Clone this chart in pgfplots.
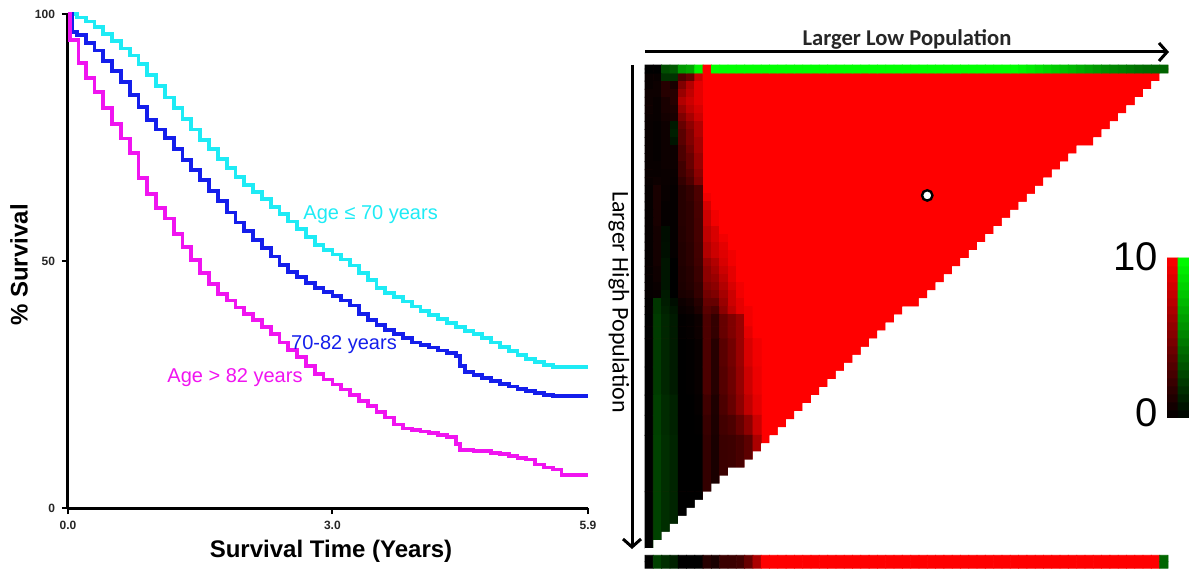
\documentclass[border=0pt]{standalone}
\usepackage{fontspec}
\setmainfont{Liberation Sans}
\newfontfamily\carlito{Carlito}
\usepackage{pgfplots}
\usepackage{pgfplotstable}
\pgfplotsset{compat=1.18}
\usetikzlibrary{arrows.meta}
\definecolor{kmcyan}{RGB}{30,235,245}
\definecolor{kmblue}{RGB}{20,30,235}
\definecolor{kmmag}{RGB}{240,20,240}
\definecolor{hmred}{RGB}{255,0,0}
\pgfplotsset{colormap={rg}{rgb255(0cm)=(0,255,0); rgb255(1cm)=(0,0,0); rgb255(2cm)=(255,0,0)},
  hm/.style={matrix plot*, mesh/cols=14, point meta=explicit}}

\pgfplotstableread{
x y
0 60
1 59
2 58
3 57
4 56
5 55
6 54
7 53
8 52
9 51
10 50
11 50
12 49
13 48
14 47
15 46
16 45
17 44
18 43
19 42
20 41
21 40
22 39
23 38
24 37
25 36
26 35
27 34
28 33
29 32
30 31
31 30
32 30
33 29
34 28
35 27
36 26
37 25
38 24
39 23
40 22
41 21
42 20
43 19
44 18
45 17
46 16
47 15
48 14
49 13
50 12
51 11
52 10
53 10
54 9
55 8
56 7
57 6
58 5
59 4
60 3
61 2
62 1
63 1
}\stair

\begin{document}
\begin{tikzpicture}
\path[use as bounding box] (0,0) rectangle (594.5pt,-285.5pt);

% ---------------- Kaplan-Meier panel ----------------
\begin{axis}[at={(34pt,-254pt)}, anchor=south west, scale only axis,
  width=260pt, height=247pt, xmin=0, xmax=5.9, ymin=0, ymax=100,
  axis lines=left, axis line style={-, line width=1.5pt},
  xtick={0,3,5.9}, xticklabels={0.0,3.0,5.9},
  ytick={0,50,100}, yticklabels={0,50,100},
  tick align=outside, major tick length=3pt,
  tick style={line width=1pt, black},
  ticklabel style={font=\fontsize{6}{7}\selectfont\bfseries, text=black!85},
  clip=false]
\addplot[const plot, kmcyan, line width=1.9pt] coordinates {
(0,100) (0.1,99.3) (0.2,98.5) (0.3,97.4) (0.4,96.0) (0.5,94.5) (0.6,93.0) (0.7,91.6) (0.8,89.8) (0.9,87.7)
(1.0,85.4) (1.1,83.1) (1.2,81.0) (1.3,78.8) (1.4,76.6) (1.5,74.5) (1.6,72.6) (1.7,70.7) (1.8,68.8) (1.9,67.0)
(2.0,65.4) (2.1,63.9) (2.2,62.5) (2.3,61.0) (2.4,59.5) (2.5,58.0) (2.6,56.4) (2.7,54.9) (2.8,53.3) (2.9,52.3)
(3.0,51.3) (3.1,50.3) (3.2,49.1) (3.3,47.6) (3.4,46.1) (3.5,44.6) (3.6,43.6) (3.7,42.7) (3.8,41.8) (3.9,40.8)
(4.0,39.9) (4.1,39.1) (4.2,38.2) (4.3,37.4) (4.4,36.7) (4.5,35.9) (4.6,35.2) (4.7,34.4) (4.8,33.5) (4.9,32.6)
(5.0,31.8) (5.1,31.0) (5.2,30.2) (5.3,29.5) (5.4,29.0) (5.5,28.6) (5.6,28.5) (5.9,28.5)};
\addplot[const plot, kmblue, line width=1.9pt] coordinates {
(0,100) (0.05,96.4) (0.1,95.8) (0.2,94.2) (0.3,92.6) (0.4,90.5) (0.5,88.4) (0.6,86.2) (0.7,83.6) (0.8,81.1) (0.9,78.6)
(1.0,76.6) (1.1,74.9) (1.2,72.7) (1.3,70.5) (1.4,68.4) (1.5,66.4) (1.6,64.2) (1.7,62.1) (1.8,59.8) (1.9,57.8)
(2.0,56.0) (2.1,54.3) (2.2,52.6) (2.3,50.9) (2.4,49.2) (2.5,47.8) (2.6,46.7) (2.7,45.6) (2.8,44.6) (2.9,43.8)
(3.0,42.9) (3.1,42.0) (3.2,41.0) (3.3,39.3) (3.4,38.1) (3.5,37.0) (3.6,36.1) (3.7,35.3) (3.8,34.4) (3.9,33.5)
(4.0,33.0) (4.1,32.5) (4.2,31.9) (4.3,31.4) (4.4,30.7) (4.45,28.7) (4.5,27.6) (4.6,26.9) (4.7,26.3) (4.8,25.7) (4.9,25.1)
(5.0,24.6) (5.1,24.1) (5.2,23.7) (5.3,23.3) (5.4,22.8) (5.5,22.7) (5.9,22.7)};
\addplot[const plot, kmmag, line width=1.9pt] coordinates {
(0,100) (0.02,94.7) (0.1,94.7) (0.12,90) (0.2,87) (0.3,84.2) (0.4,81) (0.5,77.8) (0.6,74.8) (0.7,71.8) (0.8,66.8) (0.9,63.5)
(1.0,60.8) (1.1,58.6) (1.2,55.4) (1.3,52.8) (1.4,50.2) (1.5,47.5) (1.6,45.3) (1.7,43.3) (1.8,42.0) (1.9,40.6)
(2.0,39.3) (2.1,38.0) (2.2,36.7) (2.3,35.2) (2.4,33.5) (2.5,32.0) (2.6,30.5) (2.7,28.7) (2.8,27.1) (2.9,26.0)
(3.0,25.0) (3.1,24.0) (3.2,22.9) (3.3,21.7) (3.4,20.6) (3.5,19.5) (3.6,18.3) (3.7,16.9) (3.8,16.1) (3.9,15.8)
(4.0,15.5) (4.1,15.2) (4.2,14.8) (4.3,14.4) (4.4,13.0) (4.45,11.8) (4.6,11.5) (4.8,11.2) (4.9,10.9)
(5.0,10.5) (5.1,10.1) (5.2,9.8) (5.3,8.8) (5.4,8.2) (5.5,7.8) (5.6,6.7) (5.9,6.7)};
\end{axis}

\node[rotate=90, font=\fontsize{12}{14}\selectfont\bfseries] at (9.5pt,-132.5pt) {\% Survival};
\node[font=\fontsize{12}{14}\selectfont\bfseries] at (165.5pt,-275.5pt) {Survival Time (Years)};
\node[text=kmcyan, font=\fontsize{10}{12}\selectfont] at (185.3pt,-107.3pt) {Age ≤ 70 years};
\node[text=kmblue, font=\fontsize{10}{12}\selectfont] at (172pt,-172.5pt) {70-82 years};
\node[text=kmmag, font=\fontsize{10}{12}\selectfont] at (117.5pt,-189pt) {Age > 82 years};

% ---------------- Heat map panel ----------------
\begin{axis}[at={(322.5pt,-32.5pt)}, anchor=north west, scale only axis,
  width=261.5pt, height=251.6pt, xmin=0, xmax=63, ymin=0, ymax=62.5,
  y dir=reverse, hide axis, colormap name=rg,
  point meta min=-10, point meta max=10, clip=false]
\addplot[const plot, fill=hmred, draw=none] table[x=x, y=y] {\stair} \closedcycle;
% left region, rows 1-30
\addplot[hm] coordinates {
(0.5,1.5)[0.3] (1.5,1.5)[0.3] (2.5,1.5)[-2] (3.5,1.5)[-2] (4.5,1.5)[3] (5.5,1.5)[4] (6.5,1.5)[8] (7.5,1.5)[10] (8.5,1.5)[10] (9.5,1.5)[10] (10.5,1.5)[10] (11.5,1.5)[10] (12.5,1.5)[10] (13.5,1.5)[10]
(0.5,2.5)[0.3] (1.5,2.5)[0.5] (2.5,2.5)[1.5] (3.5,2.5)[1] (4.5,2.5)[5] (5.5,2.5)[7] (6.5,2.5)[9] (7.5,2.5)[10] (8.5,2.5)[10] (9.5,2.5)[10] (10.5,2.5)[10] (11.5,2.5)[10] (12.5,2.5)[10] (13.5,2.5)[10]
(0.5,3.5)[0.5] (1.5,3.5)[0.5] (2.5,3.5)[1.5] (3.5,3.5)[1.5] (4.5,3.5)[6] (5.5,3.5)[7.5] (6.5,3.5)[9] (7.5,3.5)[10] (8.5,3.5)[10] (9.5,3.5)[10] (10.5,3.5)[10] (11.5,3.5)[10] (12.5,3.5)[10] (13.5,3.5)[10]
(0.5,4.5)[0.5] (1.5,4.5)[0.3] (2.5,4.5)[1] (3.5,4.5)[1.5] (4.5,4.5)[7] (5.5,4.5)[8] (6.5,4.5)[9] (7.5,4.5)[10] (8.5,4.5)[10] (9.5,4.5)[10] (10.5,4.5)[10] (11.5,4.5)[10] (12.5,4.5)[10] (13.5,4.5)[10]
(0.5,5.5)[0.5] (1.5,5.5)[0.3] (2.5,5.5)[1] (3.5,5.5)[1.2] (4.5,5.5)[6] (5.5,5.5)[7.5] (6.5,5.5)[8.5] (7.5,5.5)[10] (8.5,5.5)[10] (9.5,5.5)[10] (10.5,5.5)[10] (11.5,5.5)[10] (12.5,5.5)[10] (13.5,5.5)[10]
(0.5,6.5)[0.4] (1.5,6.5)[0.3] (2.5,6.5)[0.8] (3.5,6.5)[1] (4.5,6.5)[5] (5.5,6.5)[6.5] (6.5,6.5)[8] (7.5,6.5)[10] (8.5,6.5)[10] (9.5,6.5)[10] (10.5,6.5)[10] (11.5,6.5)[10] (12.5,6.5)[10] (13.5,6.5)[10]
(0.5,7.5)[0.3] (1.5,7.5)[0.2] (2.5,7.5)[0.5] (3.5,7.5)[-1] (4.5,7.5)[4] (5.5,7.5)[5.5] (6.5,7.5)[7] (7.5,7.5)[10] (8.5,7.5)[10] (9.5,7.5)[10] (10.5,7.5)[10] (11.5,7.5)[10] (12.5,7.5)[10] (13.5,7.5)[10]
(0.5,8.5)[0.3] (1.5,8.5)[0.2] (2.5,8.5)[0.5] (3.5,8.5)[-1.2] (4.5,8.5)[3.5] (5.5,8.5)[5] (6.5,8.5)[7] (7.5,8.5)[10] (8.5,8.5)[10] (9.5,8.5)[10] (10.5,8.5)[10] (11.5,8.5)[10] (12.5,8.5)[10] (13.5,8.5)[10]
(0.5,9.5)[0.3] (1.5,9.5)[0.2] (2.5,9.5)[0.5] (3.5,9.5)[-0.8] (4.5,9.5)[3.5] (5.5,9.5)[5] (6.5,9.5)[6.5] (7.5,9.5)[10] (8.5,9.5)[10] (9.5,9.5)[10] (10.5,9.5)[10] (11.5,9.5)[10] (12.5,9.5)[10] (13.5,9.5)[10]
(0.5,10.5)[0.3] (1.5,10.5)[0.2] (2.5,10.5)[0.5] (3.5,10.5)[0.5] (4.5,10.5)[3] (5.5,10.5)[4.5] (6.5,10.5)[6.5] (7.5,10.5)[10] (8.5,10.5)[10] (9.5,10.5)[10] (10.5,10.5)[10] (11.5,10.5)[10] (12.5,10.5)[10] (13.5,10.5)[10]
(0.5,11.5)[0.3] (1.5,11.5)[0.2] (2.5,11.5)[0.5] (3.5,11.5)[0.5] (4.5,11.5)[3] (5.5,11.5)[4] (6.5,11.5)[6] (7.5,11.5)[10] (8.5,11.5)[10] (9.5,11.5)[10] (10.5,11.5)[10] (11.5,11.5)[10] (12.5,11.5)[10] (13.5,11.5)[10]
(0.5,12.5)[0.3] (1.5,12.5)[0.3] (2.5,12.5)[0.5] (3.5,12.5)[0.5] (4.5,12.5)[2.5] (5.5,12.5)[4] (6.5,12.5)[6] (7.5,12.5)[10] (8.5,12.5)[10] (9.5,12.5)[10] (10.5,12.5)[10] (11.5,12.5)[10] (12.5,12.5)[10] (13.5,12.5)[10]
(0.5,13.5)[0.3] (1.5,13.5)[0.3] (2.5,13.5)[0.4] (3.5,13.5)[0.4] (4.5,13.5)[2.5] (5.5,13.5)[3.5] (6.5,13.5)[5.5] (7.5,13.5)[10] (8.5,13.5)[10] (9.5,13.5)[10] (10.5,13.5)[10] (11.5,13.5)[10] (12.5,13.5)[10] (13.5,13.5)[10]
(0.5,14.5)[0.3] (1.5,14.5)[0.5] (2.5,14.5)[0.4] (3.5,14.5)[0.3] (4.5,14.5)[2] (5.5,14.5)[3] (6.5,14.5)[5] (7.5,14.5)[10] (8.5,14.5)[10] (9.5,14.5)[10] (10.5,14.5)[10] (11.5,14.5)[10] (12.5,14.5)[10] (13.5,14.5)[10]
(0.5,15.5)[0.2] (1.5,15.5)[1] (2.5,15.5)[0.3] (3.5,15.5)[0.2] (4.5,15.5)[1.5] (5.5,15.5)[2] (6.5,15.5)[3] (7.5,15.5)[10] (8.5,15.5)[10] (9.5,15.5)[10] (10.5,15.5)[10] (11.5,15.5)[10] (12.5,15.5)[10] (13.5,15.5)[10]
(0.5,16.5)[0.2] (1.5,16.5)[1] (2.5,16.5)[0.3] (3.5,16.5)[0.2] (4.5,16.5)[1.5] (5.5,16.5)[2] (6.5,16.5)[3] (7.5,16.5)[9.5] (8.5,16.5)[10] (9.5,16.5)[10] (10.5,16.5)[10] (11.5,16.5)[10] (12.5,16.5)[10] (13.5,16.5)[10]
(0.5,17.5)[0.2] (1.5,17.5)[1] (2.5,17.5)[0.2] (3.5,17.5)[0.2] (4.5,17.5)[1.5] (5.5,17.5)[1.8] (6.5,17.5)[2.8] (7.5,17.5)[8.5] (8.5,17.5)[10] (9.5,17.5)[10] (10.5,17.5)[10] (11.5,17.5)[10] (12.5,17.5)[10] (13.5,17.5)[10]
(0.5,18.5)[0.2] (1.5,18.5)[1] (2.5,18.5)[0.2] (3.5,18.5)[0.2] (4.5,18.5)[1.5] (5.5,18.5)[1.8] (6.5,18.5)[2.8] (7.5,18.5)[8] (8.5,18.5)[9.5] (9.5,18.5)[10] (10.5,18.5)[10] (11.5,18.5)[10] (12.5,18.5)[10] (13.5,18.5)[10]
(0.5,19.5)[0.2] (1.5,19.5)[1] (2.5,19.5)[0.2] (3.5,19.5)[0.2] (4.5,19.5)[1.5] (5.5,19.5)[1.8] (6.5,19.5)[2.7] (7.5,19.5)[8] (8.5,19.5)[9.5] (9.5,19.5)[10] (10.5,19.5)[10] (11.5,19.5)[10] (12.5,19.5)[10] (13.5,19.5)[10]
(0.5,20.5)[0.2] (1.5,20.5)[0.8] (2.5,20.5)[-0.5] (3.5,20.5)[0.2] (4.5,20.5)[1.4] (5.5,20.5)[1.8] (6.5,20.5)[2.7] (7.5,20.5)[7.5] (8.5,20.5)[8.5] (9.5,20.5)[10] (10.5,20.5)[10] (11.5,20.5)[10] (12.5,20.5)[10] (13.5,20.5)[10]
(0.5,21.5)[0.2] (1.5,21.5)[0.8] (2.5,21.5)[-0.5] (3.5,21.5)[0.2] (4.5,21.5)[1.4] (5.5,21.5)[1.8] (6.5,21.5)[2.7] (7.5,21.5)[7.5] (8.5,21.5)[8.5] (9.5,21.5)[9.5] (10.5,21.5)[10] (11.5,21.5)[10] (12.5,21.5)[10] (13.5,21.5)[10]
(0.5,22.5)[0.2] (1.5,22.5)[0.8] (2.5,22.5)[-0.6] (3.5,22.5)[0.2] (4.5,22.5)[1.3] (5.5,22.5)[1.7] (6.5,22.5)[2.6] (7.5,22.5)[7] (8.5,22.5)[8] (9.5,22.5)[9] (10.5,22.5)[10] (11.5,22.5)[10] (12.5,22.5)[10] (13.5,22.5)[10]
(0.5,23.5)[0.2] (1.5,23.5)[0.8] (2.5,23.5)[-0.6] (3.5,23.5)[0.2] (4.5,23.5)[1.3] (5.5,23.5)[1.7] (6.5,23.5)[2.6] (7.5,23.5)[7] (8.5,23.5)[8] (9.5,23.5)[8.8] (10.5,23.5)[9.5] (11.5,23.5)[10] (12.5,23.5)[10] (13.5,23.5)[10]
(0.5,24.5)[0.2] (1.5,24.5)[0.8] (2.5,24.5)[-0.8] (3.5,24.5)[0] (4.5,24.5)[1.3] (5.5,24.5)[1.7] (6.5,24.5)[2.5] (7.5,24.5)[6] (8.5,24.5)[7] (9.5,24.5)[8.5] (10.5,24.5)[9.5] (11.5,24.5)[10] (12.5,24.5)[10] (13.5,24.5)[10]
(0.5,25.5)[0.2] (1.5,25.5)[0.6] (2.5,25.5)[-0.8] (3.5,25.5)[0] (4.5,25.5)[1.2] (5.5,25.5)[1.5] (6.5,25.5)[2.3] (7.5,25.5)[5.5] (8.5,25.5)[6.5] (9.5,25.5)[8] (10.5,25.5)[9] (11.5,25.5)[10] (12.5,25.5)[10] (13.5,25.5)[10]
(0.5,26.5)[0.2] (1.5,26.5)[0.6] (2.5,26.5)[-0.8] (3.5,26.5)[0] (4.5,26.5)[1.2] (5.5,26.5)[1.5] (6.5,26.5)[2.3] (7.5,26.5)[5.5] (8.5,26.5)[6] (9.5,26.5)[7.5] (10.5,26.5)[9] (11.5,26.5)[10] (12.5,26.5)[10] (13.5,26.5)[10]
(0.5,27.5)[0.2] (1.5,27.5)[0.4] (2.5,27.5)[-0.8] (3.5,27.5)[0] (4.5,27.5)[1.1] (5.5,27.5)[1.4] (6.5,27.5)[2] (7.5,27.5)[5] (8.5,27.5)[5.5] (9.5,27.5)[7] (10.5,27.5)[8.5] (11.5,27.5)[9.5] (12.5,27.5)[10] (13.5,27.5)[10]
(0.5,28.5)[0.2] (1.5,28.5)[0.3] (2.5,28.5)[-1] (3.5,28.5)[0] (4.5,28.5)[1] (5.5,28.5)[1.2] (6.5,28.5)[2] (7.5,28.5)[4.5] (8.5,28.5)[5] (9.5,28.5)[6.5] (10.5,28.5)[8] (11.5,28.5)[9.5] (12.5,28.5)[10] (13.5,28.5)[10]
(0.5,29.5)[0.1] (1.5,29.5)[-2.1] (2.5,29.5)[-1.1] (3.5,29.5)[-0.5] (4.5,29.5)[0.5] (5.5,29.5)[0.8] (6.5,29.5)[1.5] (7.5,29.5)[4] (8.5,29.5)[4] (9.5,29.5)[6] (10.5,29.5)[8] (11.5,29.5)[9] (12.5,29.5)[10] (13.5,29.5)[10]
(0.5,30.5)[0.1] (1.5,30.5)[-2.1] (2.5,30.5)[-1.3] (3.5,30.5)[-0.8] (4.5,30.5)[0.3] (5.5,30.5)[0.5] (6.5,30.5)[1.2] (7.5,30.5)[3.5] (8.5,30.5)[3] (9.5,30.5)[5.5] (10.5,30.5)[7.5] (11.5,30.5)[9] (12.5,30.5)[9.5] (13.5,30.5)[10]
};
% rows 31-33
\addplot[hm] coordinates {
(0.5,31.75)[0] (1.5,31.75)[-2.3] (2.5,31.75)[-1.5] (3.5,31.75)[-1] (4.5,31.75)[0.1] (5.5,31.75)[0.2] (6.5,31.75)[0.5] (7.5,31.75)[3] (8.5,31.75)[2] (9.5,31.75)[4] (10.5,31.75)[5] (11.5,31.75)[6] (12.5,31.75)[9.5] (13.5,31.75)[10]
(0.5,33.25)[0] (1.5,33.25)[-2.3] (2.5,33.25)[-1.5] (3.5,33.25)[-1] (4.5,33.25)[0.1] (5.5,33.25)[0.2] (6.5,33.25)[0.5] (7.5,33.25)[3] (8.5,33.25)[2] (9.5,33.25)[4] (10.5,33.25)[5] (11.5,33.25)[6] (12.5,33.25)[9] (13.5,33.25)[10]
};
% rows 34-40
\addplot[hm] coordinates {
(0.5,35.75)[0] (1.5,35.75)[-2.3] (2.5,35.75)[-1.5] (3.5,35.75)[-1] (4.5,35.75)[0] (5.5,35.75)[0.1] (6.5,35.75)[0.3] (7.5,35.75)[3] (8.5,35.75)[1.5] (9.5,35.75)[3.5] (10.5,35.75)[4.5] (11.5,35.75)[6] (12.5,35.75)[8.5] (13.5,35.75)[9.5]
(0.5,39.25)[0] (1.5,39.25)[-2.3] (2.5,39.25)[-1.5] (3.5,39.25)[-1] (4.5,39.25)[0] (5.5,39.25)[0.1] (6.5,39.25)[0.3] (7.5,39.25)[3] (8.5,39.25)[1.5] (9.5,39.25)[3.3] (10.5,39.25)[4.3] (11.5,39.25)[5.8] (12.5,39.25)[8] (13.5,39.25)[9.3]
};
% rows 41-45
\addplot[hm] coordinates {
(0.5,42.25)[0] (1.5,42.25)[-2.5] (2.5,42.25)[-1.7] (3.5,42.25)[-1.3] (4.5,42.25)[0] (5.5,42.25)[0] (6.5,42.25)[0.2] (7.5,42.25)[2.5] (8.5,42.25)[1.2] (9.5,42.25)[3] (10.5,42.25)[4] (11.5,42.25)[5.5] (12.5,42.25)[7.5] (13.5,42.25)[9]
(0.5,44.75)[0] (1.5,44.75)[-2.5] (2.5,44.75)[-1.7] (3.5,44.75)[-1.3] (4.5,44.75)[0] (5.5,44.75)[0] (6.5,44.75)[0.1] (7.5,44.75)[2.2] (8.5,44.75)[1.1] (9.5,44.75)[2.6] (10.5,44.75)[3] (11.5,44.75)[4] (12.5,44.75)[5.5] (13.5,44.75)[8]
};
% rows 46-59
\addplot[hm] coordinates {
(0.5,49.5)[0] (1.5,49.5)[-2.6] (2.5,49.5)[-1.8] (3.5,49.5)[-1.4] (4.5,49.5)[0] (5.5,49.5)[0] (6.5,49.5)[0] (7.5,49.5)[2] (8.5,49.5)[1] (9.5,49.5)[2.3] (10.5,49.5)[2.4] (11.5,49.5)[2.8] (12.5,49.5)[3.6] (13.5,49.5)[6.7]
(0.5,56.5)[0] (1.5,56.5)[-2.6] (2.5,56.5)[-1.8] (3.5,56.5)[-1.4] (4.5,56.5)[0] (5.5,56.5)[0] (6.5,56.5)[0] (7.5,56.5)[2] (8.5,56.5)[1] (9.5,56.5)[2.3] (10.5,56.5)[2.4] (11.5,56.5)[2.8] (12.5,56.5)[3.6] (13.5,56.5)[6.7]
};
% empty part below the staircase
\addplot[const plot, fill=white, draw=none] table[x=x, y=y] {\stair} -- (axis cs:63,60.3) -- (axis cs:0,60.3) -- cycle;
% top row
\addplot[matrix plot*, mesh/cols=63, point meta=explicit] coordinates {
(0.5,0.25)[0] (1.5,0.25)[0] (2.5,0.25)[-3] (3.5,0.25)[-3.5] (4.5,0.25)[-6] (5.5,0.25)[-6.5] (6.5,0.25)[-9.5] (7.5,0.25)[10] (8.5,0.25)[-10] (9.5,0.25)[-10] (10.5,0.25)[-10] (11.5,0.25)[-10] (12.5,0.25)[-10] (13.5,0.25)[-10] (14.5,0.25)[-10] (15.5,0.25)[-10] (16.5,0.25)[-10] (17.5,0.25)[-10] (18.5,0.25)[-10] (19.5,0.25)[-10] (20.5,0.25)[-10] (21.5,0.25)[-10] (22.5,0.25)[-10] (23.5,0.25)[-10] (24.5,0.25)[-10] (25.5,0.25)[-10] (26.5,0.25)[-10] (27.5,0.25)[-10] (28.5,0.25)[-10] (29.5,0.25)[-10] (30.5,0.25)[-10] (31.5,0.25)[-10] (32.5,0.25)[-10] (33.5,0.25)[-10] (34.5,0.25)[-10] (35.5,0.25)[-10] (36.5,0.25)[-10] (37.5,0.25)[-10] (38.5,0.25)[-10] (39.5,0.25)[-10] (40.5,0.25)[-10] (41.5,0.25)[-10] (42.5,0.25)[-10] (43.5,0.25)[-10] (44.5,0.25)[-10] (45.5,0.25)[-9.6] (46.5,0.25)[-9.2] (47.5,0.25)[-8.8] (48.5,0.25)[-8.4] (49.5,0.25)[-8] (50.5,0.25)[-7.6] (51.5,0.25)[-7.2] (52.5,0.25)[-6.8] (53.5,0.25)[-6.4] (54.5,0.25)[-6] (55.5,0.25)[-5.6] (56.5,0.25)[-5.3] (57.5,0.25)[-5] (58.5,0.25)[-4.7] (59.5,0.25)[-4.4] (60.5,0.25)[-4.2] (61.5,0.25)[-4] (62.5,0.25)[-3.9]
(0.5,0.75)[0] (1.5,0.75)[0] (2.5,0.75)[-3] (3.5,0.75)[-3.5] (4.5,0.75)[-6] (5.5,0.75)[-6.5] (6.5,0.75)[-9.5] (7.5,0.75)[10] (8.5,0.75)[-10] (9.5,0.75)[-10] (10.5,0.75)[-10] (11.5,0.75)[-10] (12.5,0.75)[-10] (13.5,0.75)[-10] (14.5,0.75)[-10] (15.5,0.75)[-10] (16.5,0.75)[-10] (17.5,0.75)[-10] (18.5,0.75)[-10] (19.5,0.75)[-10] (20.5,0.75)[-10] (21.5,0.75)[-10] (22.5,0.75)[-10] (23.5,0.75)[-10] (24.5,0.75)[-10] (25.5,0.75)[-10] (26.5,0.75)[-10] (27.5,0.75)[-10] (28.5,0.75)[-10] (29.5,0.75)[-10] (30.5,0.75)[-10] (31.5,0.75)[-10] (32.5,0.75)[-10] (33.5,0.75)[-10] (34.5,0.75)[-10] (35.5,0.75)[-10] (36.5,0.75)[-10] (37.5,0.75)[-10] (38.5,0.75)[-10] (39.5,0.75)[-10] (40.5,0.75)[-10] (41.5,0.75)[-10] (42.5,0.75)[-10] (43.5,0.75)[-10] (44.5,0.75)[-10] (45.5,0.75)[-9.6] (46.5,0.75)[-9.2] (47.5,0.75)[-8.8] (48.5,0.75)[-8.4] (49.5,0.75)[-8] (50.5,0.75)[-7.6] (51.5,0.75)[-7.2] (52.5,0.75)[-6.8] (53.5,0.75)[-6.4] (54.5,0.75)[-6] (55.5,0.75)[-5.6] (56.5,0.75)[-5.3] (57.5,0.75)[-5] (58.5,0.75)[-4.7] (59.5,0.75)[-4.4] (60.5,0.75)[-4.2] (61.5,0.75)[-4] (62.5,0.75)[-3.9]
};
% bottom strip
\addplot[matrix plot*, mesh/cols=63, point meta=explicit] coordinates {
(0.5,61.3)[0] (1.5,61.3)[-2.6] (2.5,61.3)[-1.8] (3.5,61.3)[-1.3] (4.5,61.3)[0] (5.5,61.3)[0] (6.5,61.3)[0] (7.5,61.3)[1.5] (8.5,61.3)[1] (9.5,61.3)[2.3] (10.5,61.3)[2.3] (11.5,61.3)[2.5] (12.5,61.3)[4] (13.5,61.3)[6.7] (14.5,61.3)[10] (15.5,61.3)[10] (16.5,61.3)[10] (17.5,61.3)[10] (18.5,61.3)[10] (19.5,61.3)[10] (20.5,61.3)[10] (21.5,61.3)[10] (22.5,61.3)[10] (23.5,61.3)[10] (24.5,61.3)[10] (25.5,61.3)[10] (26.5,61.3)[10] (27.5,61.3)[10] (28.5,61.3)[10] (29.5,61.3)[10] (30.5,61.3)[10] (31.5,61.3)[10] (32.5,61.3)[10] (33.5,61.3)[10] (34.5,61.3)[10] (35.5,61.3)[10] (36.5,61.3)[10] (37.5,61.3)[10] (38.5,61.3)[10] (39.5,61.3)[10] (40.5,61.3)[10] (41.5,61.3)[10] (42.5,61.3)[10] (43.5,61.3)[10] (44.5,61.3)[10] (45.5,61.3)[10] (46.5,61.3)[10] (47.5,61.3)[10] (48.5,61.3)[10] (49.5,61.3)[10] (50.5,61.3)[10] (51.5,61.3)[10] (52.5,61.3)[10] (53.5,61.3)[10] (54.5,61.3)[10] (55.5,61.3)[10] (56.5,61.3)[10] (57.5,61.3)[10] (58.5,61.3)[10] (59.5,61.3)[10] (60.5,61.3)[10] (61.5,61.3)[10] (62.5,61.3)[-4]
(0.5,62.1)[0] (1.5,62.1)[-2.6] (2.5,62.1)[-1.8] (3.5,62.1)[-1.3] (4.5,62.1)[0] (5.5,62.1)[0] (6.5,62.1)[0] (7.5,62.1)[1.5] (8.5,62.1)[1] (9.5,62.1)[2.3] (10.5,62.1)[2.3] (11.5,62.1)[2.5] (12.5,62.1)[4] (13.5,62.1)[6.7] (14.5,62.1)[10] (15.5,62.1)[10] (16.5,62.1)[10] (17.5,62.1)[10] (18.5,62.1)[10] (19.5,62.1)[10] (20.5,62.1)[10] (21.5,62.1)[10] (22.5,62.1)[10] (23.5,62.1)[10] (24.5,62.1)[10] (25.5,62.1)[10] (26.5,62.1)[10] (27.5,62.1)[10] (28.5,62.1)[10] (29.5,62.1)[10] (30.5,62.1)[10] (31.5,62.1)[10] (32.5,62.1)[10] (33.5,62.1)[10] (34.5,62.1)[10] (35.5,62.1)[10] (36.5,62.1)[10] (37.5,62.1)[10] (38.5,62.1)[10] (39.5,62.1)[10] (40.5,62.1)[10] (41.5,62.1)[10] (42.5,62.1)[10] (43.5,62.1)[10] (44.5,62.1)[10] (45.5,62.1)[10] (46.5,62.1)[10] (47.5,62.1)[10] (48.5,62.1)[10] (49.5,62.1)[10] (50.5,62.1)[10] (51.5,62.1)[10] (52.5,62.1)[10] (53.5,62.1)[10] (54.5,62.1)[10] (55.5,62.1)[10] (56.5,62.1)[10] (57.5,62.1)[10] (58.5,62.1)[10] (59.5,62.1)[10] (60.5,62.1)[10] (61.5,62.1)[10] (62.5,62.1)[-4]
};
\addplot[only marks, mark=*, mark size=2.6pt, mark options={fill=white, draw=black, line width=1.2pt}] coordinates {(34,16.2)};
\end{axis}

% colour bar
\begin{axis}[at={(583.5pt,-209pt)}, anchor=south west, scale only axis,
  width=11pt, height=80pt, xmin=0, xmax=2, ymin=0, ymax=10, hide axis,
  colormap name=rg, point meta min=-10, point meta max=10]
\addplot[matrix plot*, mesh/cols=2, point meta=explicit] coordinates {
(0.5,0.25)[0.25] (1.5,0.25)[-0.25] (0.5,0.75)[0.75] (1.5,0.75)[-0.75]
(0.5,1.25)[1.25] (1.5,1.25)[-1.25] (0.5,1.75)[1.75] (1.5,1.75)[-1.75]
(0.5,2.25)[2.25] (1.5,2.25)[-2.25] (0.5,2.75)[2.75] (1.5,2.75)[-2.75]
(0.5,3.25)[3.25] (1.5,3.25)[-3.25] (0.5,3.75)[3.75] (1.5,3.75)[-3.75]
(0.5,4.25)[4.25] (1.5,4.25)[-4.25] (0.5,4.75)[4.75] (1.5,4.75)[-4.75]
(0.5,5.25)[5.25] (1.5,5.25)[-5.25] (0.5,5.75)[5.75] (1.5,5.75)[-5.75]
(0.5,6.25)[6.25] (1.5,6.25)[-6.25] (0.5,6.75)[6.75] (1.5,6.75)[-6.75]
(0.5,7.25)[7.25] (1.5,7.25)[-7.25] (0.5,7.75)[7.75] (1.5,7.75)[-7.75]
(0.5,8.25)[8.25] (1.5,8.25)[-8.25] (0.5,8.75)[8.75] (1.5,8.75)[-8.75]
(0.5,9.25)[9.25] (1.5,9.25)[-9.25] (0.5,9.75)[9.75] (1.5,9.75)[-9.75]
};
\end{axis}

\node[anchor=east, font=\fontsize{20}{22}\selectfont, inner sep=0pt] at (579pt,-128.5pt) {10};
\node[anchor=east, font=\fontsize{20}{22}\selectfont, inner sep=0pt] at (579pt,-206.5pt) {0};

% arrows and their labels
\draw[line width=1.5pt, -{Straight Barb[length=4pt, width=9pt]}] (322.5pt,-26pt) -- (584.5pt,-26pt);
\draw[line width=1.5pt, -{Straight Barb[length=4pt, width=9pt]}] (316pt,-32.5pt) -- (316pt,-274.5pt);
\node[font=\carlito\bfseries\fontsize{11.3}{13}\selectfont, text=black!85] at (453.5pt,-19.5pt) {Larger Low Population};
\node[rotate=-90, font=\carlito\fontsize{12}{14}\selectfont] at (309.5pt,-151pt) {Larger High Population};
\end{tikzpicture}
\end{document}
